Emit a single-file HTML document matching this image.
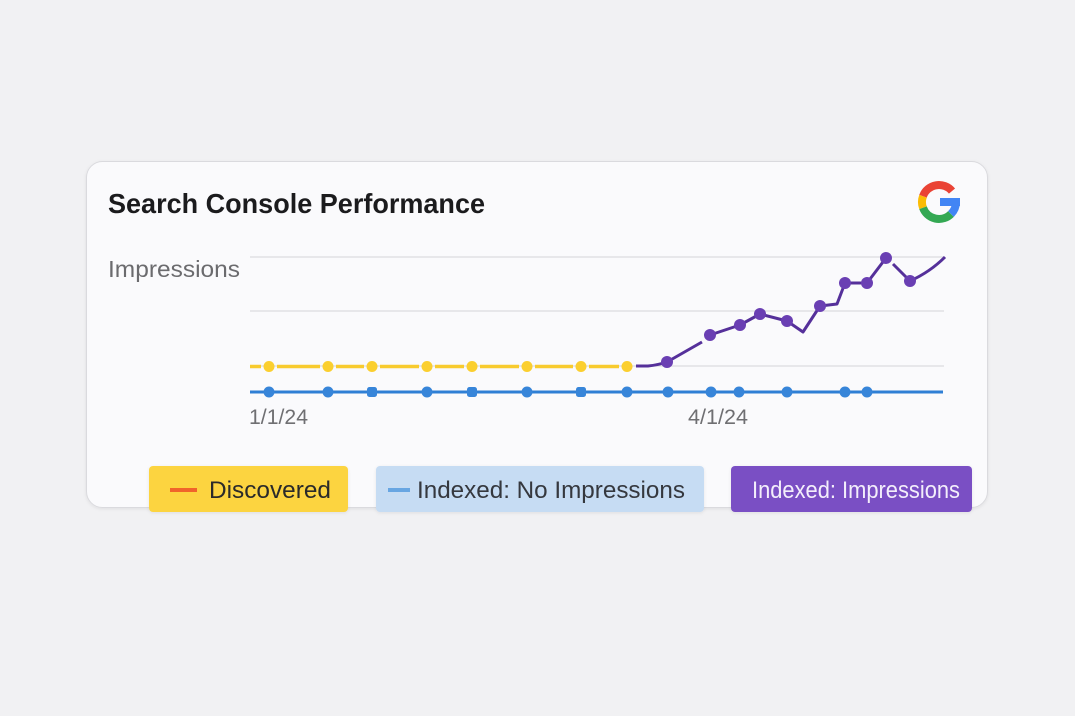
<!DOCTYPE html>
<html>
<head>
<meta charset="utf-8">
<style>
  html,body{margin:0;padding:0;background:#f1f1f3;}
  body{width:1075px;height:716px;overflow:hidden;}
  svg{display:block;}
  text{font-family:"Liberation Sans",sans-serif;}
</style>
</head>
<body>
<svg width="1075" height="716" viewBox="0 0 1075 716" xmlns="http://www.w3.org/2000/svg">
  <defs>
    <filter id="sh" x="-10%" y="-10%" width="120%" height="130%">
      <feDropShadow dx="0" dy="1" stdDeviation="1.5" flood-color="#000" flood-opacity="0.08"/>
    </filter>
  </defs>
  <rect x="0" y="0" width="1075" height="716" fill="#f1f1f3"/>
  <!-- card -->
  <rect x="86.5" y="161.5" width="901" height="346" rx="16" ry="16" fill="#fafafc" stroke="#dadade" stroke-width="1" filter="url(#sh)"/>

  <!-- title -->
  <text x="108" y="213" font-size="28" font-weight="bold" fill="#1b1b1d" textLength="377" lengthAdjust="spacingAndGlyphs">Search Console Performance</text>
  <text x="108" y="277" font-size="23" fill="#6b6b6e" textLength="132" lengthAdjust="spacingAndGlyphs">Impressions</text>

  <!-- Google G -->
  <g fill="none" stroke-width="8" stroke-linecap="butt">
    <path d="M952,191.1 A17 17 0 0 0 923,196.2" stroke="#ea4335"/>
    <path d="M923,196.2 A17 17 0 0 0 923,207.8" stroke="#fbbc05"/>
    <path d="M923,207.8 A17 17 0 0 0 951,214" stroke="#34a853"/>
    <path d="M951,214 A17 17 0 0 0 956,202" stroke="#4285f4"/>
  </g>
  <rect x="940" y="198" width="20" height="8" fill="#4285f4"/>

  <!-- gridlines -->
  <g stroke="#dcdcdf" stroke-width="1.2">
    <line x1="250" y1="257" x2="944" y2="257"/>
    <line x1="250" y1="311" x2="944" y2="311"/>
    <line x1="250" y1="366" x2="944" y2="366"/>
  </g>

  <!-- blue line -->
  <line x1="250" y1="392" x2="943" y2="392" stroke="#2f7fd5" stroke-width="3"/>
  <g fill="#3785d9">
    <circle cx="269" cy="392" r="5.5"/>
    <circle cx="328" cy="392" r="5.5"/>
    <rect x="367" y="387" width="10" height="10" rx="2.5"/>
    <circle cx="427" cy="392" r="5.5"/>
    <rect x="467" y="387" width="10" height="10" rx="2.5"/>
    <circle cx="527" cy="392" r="5.5"/>
    <rect x="576" y="387" width="10" height="10" rx="2.5"/>
    <circle cx="627" cy="392" r="5.5"/>
    <circle cx="668" cy="392" r="5.5"/>
    <circle cx="711" cy="392" r="5.5"/>
    <circle cx="739" cy="392" r="5.5"/>
    <circle cx="787" cy="392" r="5.5"/>
    <circle cx="845" cy="392" r="5.5"/>
    <circle cx="867" cy="392" r="5.5"/>
  </g>

  <!-- yellow line -->
  <g stroke="#f8cb2e" stroke-width="3.5">
    <line x1="250" y1="366.5" x2="261" y2="366.5"/>
    <line x1="277" y1="366.5" x2="320" y2="366.5"/>
    <line x1="336" y1="366.5" x2="364" y2="366.5"/>
    <line x1="380" y1="366.5" x2="419" y2="366.5"/>
    <line x1="435" y1="366.5" x2="464" y2="366.5"/>
    <line x1="480" y1="366.5" x2="519" y2="366.5"/>
    <line x1="535" y1="366.5" x2="573" y2="366.5"/>
    <line x1="589" y1="366.5" x2="619" y2="366.5"/>
  </g>
  <g fill="#fbcf2f">
    <circle cx="269" cy="366.5" r="5.5"/>
    <circle cx="328" cy="366.5" r="5.5"/>
    <circle cx="372" cy="366.5" r="5.5"/>
    <circle cx="427" cy="366.5" r="5.5"/>
    <circle cx="472" cy="366.5" r="5.5"/>
    <circle cx="527" cy="366.5" r="5.5"/>
    <circle cx="581" cy="366.5" r="5.5"/>
    <circle cx="627" cy="366.5" r="5.5"/>
  </g>

  <!-- purple line -->
  <path d="M636,366 L648,366 Q658,365 667,362 L702,342 M710,335 L740,325 L760,314 L787,321 L803,332 L820,306 L837,304 L845,283 L867,283 L886,258 M893,264 L910,281 Q930,272 945,257"
        fill="none" stroke="#55309a" stroke-width="3" stroke-linejoin="round"/>
  <g fill="#6a3fb3">
    <circle cx="667" cy="362" r="6"/>
    <circle cx="710" cy="335" r="6"/>
    <circle cx="740" cy="325" r="6"/>
    <circle cx="760" cy="314" r="6"/>
    <circle cx="787" cy="321" r="6"/>
    <circle cx="820" cy="306" r="6"/>
    <circle cx="845" cy="283" r="6"/>
    <circle cx="867" cy="283" r="6"/>
    <circle cx="886" cy="258" r="6"/>
    <circle cx="910" cy="281" r="6"/>
  </g>

  <!-- x labels -->
  <text x="249" y="424" font-size="21" fill="#6f6f72" textLength="59" lengthAdjust="spacingAndGlyphs">1/1/24</text>
  <text x="688" y="424" font-size="21" fill="#6f6f72" textLength="60" lengthAdjust="spacingAndGlyphs">4/1/24</text>

  <!-- legend -->
  <rect x="149" y="466" width="199" height="46" rx="4" fill="#fcd440" filter="url(#sh)"/>
  <rect x="170" y="488" width="27" height="4" fill="#f0642a"/>
  <text x="209" y="498" font-size="24" fill="#2a2a2a" textLength="122" lengthAdjust="spacingAndGlyphs">Discovered</text>

  <rect x="376" y="466" width="328" height="46" rx="4" fill="#c6dcf3" filter="url(#sh)"/>
  <rect x="388" y="488" width="22" height="4" fill="#68a6e2"/>
  <text x="417" y="498" font-size="24" fill="#35383e" textLength="268" lengthAdjust="spacingAndGlyphs">Indexed: No Impressions</text>

  <rect x="731" y="466" width="241" height="46" rx="4" fill="#7a4fc4" filter="url(#sh)"/>
  <text x="752" y="498" font-size="24" fill="#f3eefb" textLength="208" lengthAdjust="spacingAndGlyphs">Indexed: Impressions</text>
</svg>
</body>
</html>
